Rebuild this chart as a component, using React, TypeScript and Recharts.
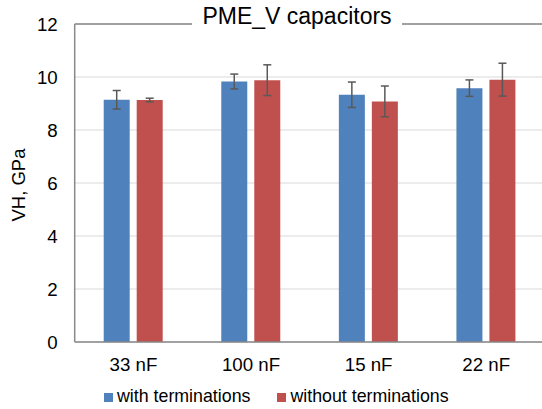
import { BarChart, Bar, XAxis, YAxis, CartesianGrid, ErrorBar, ReferenceLine } from "recharts";

const categories = ["33 nF", "100 nF", "15 nF", "22 nF"];
const withTerminations = [9.14, 9.83, 9.33, 9.58];
const withTerminationsErr = [0.35, 0.28, 0.48, 0.31];
const withoutTerminations = [9.13, 9.88, 9.08, 9.9];
const withoutTerminationsErr = [0.07, 0.58, 0.58, 0.62];
const yTicks = [0, 2, 4, 6, 8, 10, 12];

const data = categories.map((name, i) => ({
  name,
  withT: withTerminations[i],
  withTErr: withTerminationsErr[i],
  withoutT: withoutTerminations[i],
  withoutTErr: withoutTerminationsErr[i],
}));

const BLUE = "#4F81BD";
const RED = "#C0504D";
const AXIS = "#898989";
const FONT = "'Liberation Sans', Arial, sans-serif";

// eslint-disable-next-line @typescript-eslint/no-explicit-any
function YLabel(props: any) {
  const { viewBox } = props;
  const x = viewBox.x + 18;
  const y = viewBox.y + viewBox.height / 2 + 2;
  return (
    <text
      x={x}
      y={y}
      transform={`rotate(-90, ${x}, ${y})`}
      textAnchor="middle"
      dominantBaseline="central"
      fontSize={18.5}
      fontFamily={FONT}
      fill="#000"
    >
      VH, GPa
    </text>
  );
}

export default function App() {
  return (
    <div style={{ position: "absolute", left: 0, top: 0, width: 542, height: 409, overflow: "hidden", background: "#fff", fontFamily: FONT }}>
      <BarChart
        width={550}
        height={409}
        data={data}
        margin={{ top: 24, right: 5, bottom: 0, left: 0 }}
        barSize={26}
        barGap={7}
      >
        <CartesianGrid vertical={false} stroke="#D9D9D9" strokeWidth={1} />
        <XAxis
          dataKey="name"
          height={67}
          tickLine={false}
          tickSize={0}
          tickMargin={16}
          axisLine={{ stroke: AXIS, strokeWidth: 1.5 }}
          tick={{ fill: "#000", fontSize: 18.7, fontFamily: FONT }}
        />
        <YAxis
          width={74.7}
          domain={[0, 12]}
          ticks={yTicks}
          interval={0}
          tickLine={false}
          tickSize={0}
          tickMargin={17}
          axisLine={{ stroke: AXIS, strokeWidth: 1.5 }}
          tick={{ fill: "#000", fontSize: 18.7, fontFamily: FONT }}
          label={<YLabel />}
        />
        <ReferenceLine y={12} stroke={AXIS} strokeWidth={1.5} />
        <Bar dataKey="withT" fill={BLUE} isAnimationActive={false}>
          <ErrorBar dataKey="withTErr" width={4} stroke="#595959" strokeWidth={1.5} />
        </Bar>
        <Bar dataKey="withoutT" fill={RED} isAnimationActive={false}>
          <ErrorBar dataKey="withoutTErr" width={4} stroke="#595959" strokeWidth={1.5} />
        </Bar>
      </BarChart>
      <div
        style={{
          position: "absolute",
          left: 192,
          top: 3,
          width: 210,
          height: 26,
          lineHeight: "26px",
          background: "#fff",
          textAlign: "center",
          fontSize: 23,
          color: "#000",
          whiteSpace: "nowrap",
        }}
      >
        PME_V capacitors
      </div>
      <div style={{ position: "absolute", left: 104, top: 385, fontSize: 17.8, color: "#000", whiteSpace: "nowrap", lineHeight: "22px" }}>
        <span style={{ display: "inline-block", width: 9, height: 9, background: BLUE, marginRight: 4 }} />
        <span>with terminations</span>
        <span style={{ display: "inline-block", width: 9, height: 9, background: RED, marginLeft: 27, marginRight: 4 }} />
        <span>without terminations</span>
      </div>
    </div>
  );
}
